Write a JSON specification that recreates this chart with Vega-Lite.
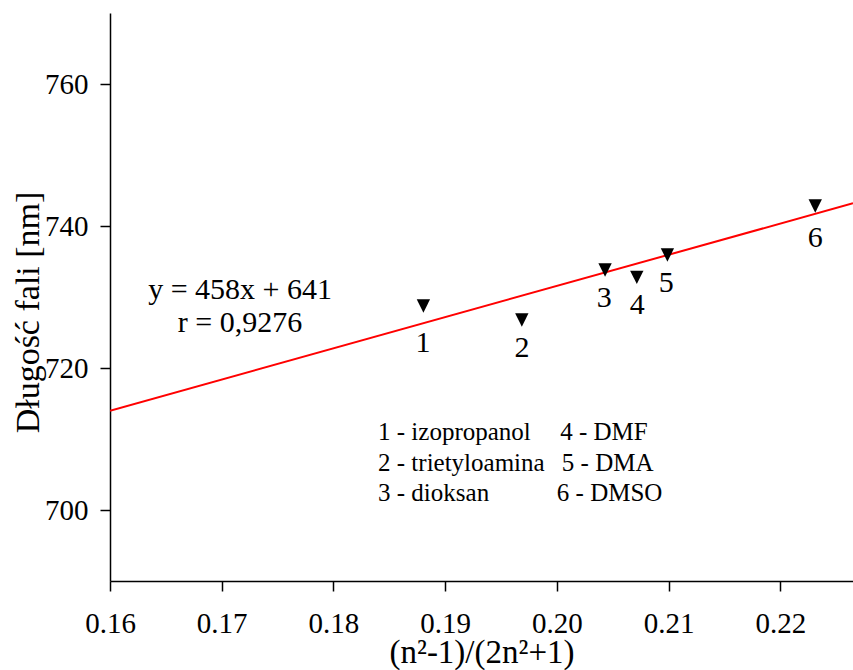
{
  "$schema": "https://vega.github.io/schema/vega-lite/v6.json",
  "width": 743,
  "height": 568,
  "autosize": {"type": "none"},
  "padding": {"left": 110, "top": 13, "right": 0, "bottom": 89},
  "background": "white",
  "config": {"view": {"stroke": null}, "font": "Liberation Serif"},
  "datasets": {
    "fit": [
      {"x": 0.16, "y": 713.99},
      {"x": 0.2265, "y": 743.2}
    ],
    "points": [
      {"x": 0.18805, "y": 728.73},
      {"x": 0.19686, "y": 726.76},
      {"x": 0.20431, "y": 733.8},
      {"x": 0.20715, "y": 732.77},
      {"x": 0.20989, "y": 735.92},
      {"x": 0.22312, "y": 742.82}
    ],
    "numbers": [
      {"x": 0.18802, "y": 723.52, "label": "1"},
      {"x": 0.19688, "y": 722.82, "label": "2"},
      {"x": 0.20423, "y": 729.86, "label": "3"},
      {"x": 0.20718, "y": 728.87, "label": "4"},
      {"x": 0.20978, "y": 731.97, "label": "5"},
      {"x": 0.22312, "y": 738.31, "label": "6"}
    ],
    "equation": [
      {"x": 0.17164, "y": 730.99, "label": "y = 458x + 641"},
      {"x": 0.17164, "y": 726.34, "label": "r = 0,9276"}
    ],
    "legend": [
      {"x": 0.18399, "y": 711.03, "label": "1 - izopropanol"},
      {"x": 0.18399, "y": 706.66, "label": "2 - trietyloamina"},
      {"x": 0.18399, "y": 702.44, "label": "3 - dioksan"},
      {"x": 0.20029, "y": 711.03, "label": "4 - DMF"},
      {"x": 0.20044, "y": 706.66, "label": "5 - DMA"},
      {"x": 0.19999, "y": 702.44, "label": "6 - DMSO"}
    ]
  },
  "encoding": {
    "x": {
      "field": "x",
      "type": "quantitative",
      "scale": {"domain": [0.16, 0.2265], "nice": false, "zero": false},
      "axis": {
        "title": "(n²-1)/(2n²+1)",
        "values": [0.16, 0.17, 0.18, 0.19, 0.2, 0.21, 0.22],
        "format": ".2f",
        "grid": false,
        "domainColor": "black",
        "domainWidth": 1.5,
        "tickColor": "black",
        "tickWidth": 1.5,
        "tickSize": 10,
        "labelFont": "Liberation Serif",
        "labelFontSize": 29,
        "labelColor": "black",
        "labelPadding": 18,
        "labelFlush": false,
        "labelOverlap": false,
        "titleFont": "Liberation Serif",
        "titleFontSize": 33,
        "titleFontWeight": "normal",
        "titleColor": "black",
        "titleBaseline": "alphabetic",
        "titleY": 81
      }
    },
    "y": {
      "field": "y",
      "type": "quantitative",
      "scale": {"domain": [690, 770], "nice": false, "zero": false},
      "axis": {
        "title": "Długość fali [nm]",
        "values": [700, 720, 740, 760],
        "grid": false,
        "domainColor": "black",
        "domainWidth": 1.5,
        "tickColor": "black",
        "tickWidth": 1.5,
        "tickSize": 10,
        "labelFont": "Liberation Serif",
        "labelFontSize": 29,
        "labelColor": "black",
        "labelPadding": 12,
        "labelFlush": false,
        "labelOverlap": false,
        "titleFont": "Liberation Serif",
        "titleFontSize": 34,
        "titleFontWeight": "normal",
        "titleColor": "black",
        "titleAngle": 270,
        "titleBaseline": "alphabetic",
        "titleAlign": "center",
        "titleX": -72,
        "titleY": 299
      }
    }
  },
  "layer": [
    {
      "data": {"name": "fit"},
      "mark": {"type": "line", "color": "#ff0000", "strokeWidth": 2, "clip": true}
    },
    {
      "data": {"name": "points"},
      "mark": {"type": "point", "shape": "M-1,-1L1,-1L0,1Z", "filled": true, "color": "black", "opacity": 1, "size": 178}
    },
    {
      "data": {"name": "numbers"},
      "mark": {"type": "text", "font": "Liberation Serif", "fontSize": 30, "color": "black", "align": "center", "baseline": "middle"},
      "encoding": {"text": {"field": "label"}}
    },
    {
      "data": {"name": "equation"},
      "mark": {"type": "text", "font": "Liberation Serif", "fontSize": 30, "color": "black", "align": "center", "baseline": "middle"},
      "encoding": {"text": {"field": "label"}}
    },
    {
      "data": {"name": "legend"},
      "mark": {"type": "text", "font": "Liberation Serif", "fontSize": 25, "color": "black", "align": "left", "baseline": "middle"},
      "encoding": {"text": {"field": "label"}}
    }
  ]
}
